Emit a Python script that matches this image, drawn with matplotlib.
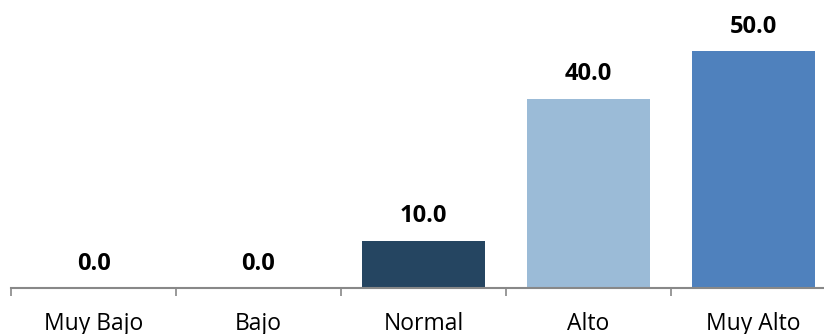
import matplotlib.pyplot as plt

categories = ["Muy Bajo", "Bajo", "Normal", "Alto", "Muy Alto"]
values = [0.0, 0.0, 10.0, 40.0, 50.0]
colors = ["#254561", "#254561", "#254561", "#9BBBD7", "#4F81BD"]

plt.rcParams['font.family'] = ['Open Sans', 'DejaVu Sans']

fig = plt.figure(figsize=(8.24, 3.34), dpi=100)
ax = fig.add_axes([11 / 824, 46 / 334, 825 / 824, 284 / 334])

x = range(len(categories))
ax.bar(x, values, width=0.75, color=colors)

# value labels above each bar
for xi, v in zip(x, values):
    ax.annotate(f"{v:.1f}", (xi, v), xytext=(0, 13.3), textcoords="offset points",
                ha="center", va="baseline", fontsize=17, fontweight="bold", color="black")

ax.set_xlim(-0.5, len(categories) - 0.5)
ax.set_ylim(0, 60)

# tick marks at category boundaries, labels at centres
ax.set_xticks([i - 0.5 for i in range(len(categories) + 1)])
ax.set_xticklabels([])
ax.set_xticks(list(x), minor=True)
ax.set_xticklabels(categories, minor=True, fontsize=16.5)
ax.tick_params(axis="x", which="major", length=6, width=1.2, color="#888888")
ax.tick_params(axis="x", which="minor", length=0, pad=17)

ax.set_yticks([])
for side in ["top", "right", "left"]:
    ax.spines[side].set_visible(False)
ax.spines["bottom"].set_color("#888888")
ax.spines["bottom"].set_linewidth(1.5)

fig.savefig("out.png", dpi=100)
